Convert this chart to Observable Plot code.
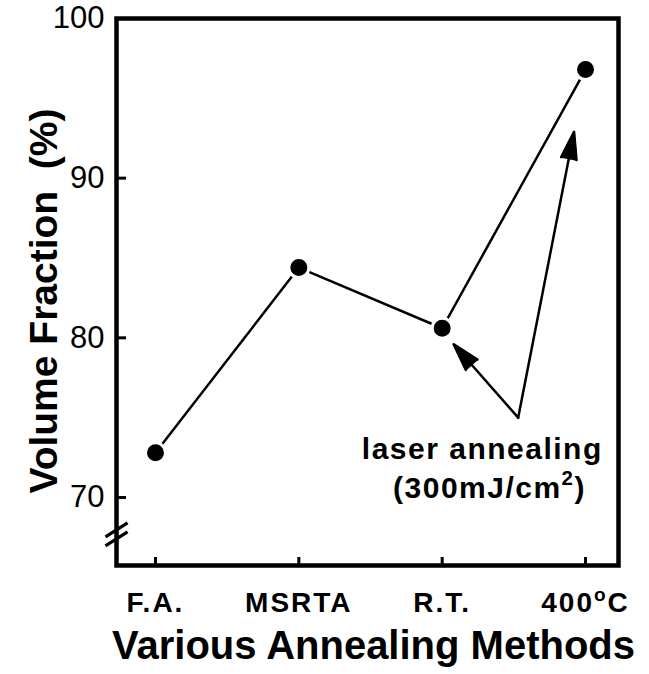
<!DOCTYPE html>
<html><head><meta charset="utf-8">
<script src="https://cdn.jsdelivr.net/npm/d3@7"></script>
<script src="https://cdn.jsdelivr.net/npm/@observablehq/plot@0.6"></script>
<style>
body{margin:0;background:#fff;}
#chart svg{display:block;}
</style></head><body><div id="chart"></div>
<script>
const methods = ["F.A.", "MSRTA", "R.T.", "400°C"];
const methodIndex = [0, 1, 2, 3];
const volumeFraction = [72.8, 84.4, 80.6, 96.8];
const yTicks = [70, 80, 90, 100];
const yLabel = "Volume Fraction  (%)";
const xLabel = "Various Annealing Methods";
const noteLines = ["laser annealing", "(300mJ/cm²)"];
const noteX = [2.28, 2.33];
const noteY = [73.0, 70.6];
const arrowStartX = [2.53, 2.53];
const arrowStartY = [75.0, 75.0];
const arrowEndX = [2.08, 2.92];
const arrowEndY = [79.6, 92.9];
// axis-break slashes
const breakX1 = [-0.349, -0.349];
const breakX2 = [-0.195, -0.195];
const breakY1 = [67.53, 66.97];
const breakY2 = [68.41, 67.85];

const data = methodIndex.map(i => ({i, v: volumeFraction[i]}));
const font = "'Liberation Sans', Arial, Helvetica, sans-serif";

const chart = Plot.plot({
  width: 649, height: 674,
  marginLeft: 116, marginRight: 31, marginTop: 18, marginBottom: 109,
  style: {fontFamily: font, color: "black", background: "white"},
  x: {type: "linear", domain: [-0.272, 3.23], label: null},
  y: {domain: [65.74, 100], label: null},
  marks: [
    Plot.axisY(yTicks, {anchor: "left", tickSize: 10, dx: 10, tickPadding: 12, fontSize: 31, strokeWidth: 3, label: null}),
    Plot.axisX(methodIndex, {anchor: "bottom", tickSize: 8, dy: -8, tickPadding: 27, fontSize: 28, fontWeight: "bold", strokeWidth: 3, tickFormat: i => methods[i], label: null}),
    Plot.frame({strokeWidth: 4.5}),
    Plot.link(breakX1, {x1: breakX1, y1: breakY1, x2: breakX2, y2: breakY2, strokeWidth: 3.2}),
    Plot.line(data, {x: "i", y: "v", strokeWidth: 2.5}),
    Plot.dot(data, {x: "i", y: "v", r: 10, fill: "black", stroke: "white", strokeWidth: 3}),
    Plot.arrow(arrowEndX, {x1: arrowStartX, y1: arrowStartY, x2: arrowEndX, y2: arrowEndY, strokeWidth: 2.5, headLength: 17, headAngle: 32}),
    Plot.text(noteLines, {x: noteX, y: noteY, text: d => d, fontSize: 30, fontWeight: "bold"}),
    Plot.text([yLabel], {frameAnchor: "left", textAnchor: "middle", text: d => d, rotate: -90, dx: -72, dy: 9, fontSize: 39, fontWeight: "bold"}),
    Plot.text([xLabel], {frameAnchor: "bottom", textAnchor: "middle", text: d => d, dx: 6, dy: 93, fontSize: 40, fontWeight: "bold"})
  ]
});

const NS = "http://www.w3.org/2000/svg";
function sup(t, base, supText, rest, fs) {
  while (t.firstChild) t.removeChild(t.firstChild);
  t.appendChild(document.createTextNode(base));
  const s = document.createElementNS(NS, "tspan");
  s.setAttribute("dy", -0.42 * fs);
  s.setAttribute("font-size", 0.68 * fs);
  s.textContent = supText;
  t.appendChild(s);
  const r = document.createElementNS(NS, "tspan");
  r.setAttribute("dy", 0.42 * fs);
  r.textContent = rest;
  t.appendChild(r);
}
chart.querySelectorAll("text").forEach(t => {
  const s = t.textContent;
  if (s === "400°C") { sup(t, "400", "o", "C", 28); t.setAttribute("letter-spacing", 2); }
  else if (methods.includes(s)) t.setAttribute("letter-spacing", 2);
  else if (s === noteLines[0]) t.setAttribute("letter-spacing", 1.5);
  else if (s === noteLines[1]) { sup(t, "(300mJ/cm", "2", ")", 30); t.setAttribute("letter-spacing", 1.5); }
});
// fill the arrowheads
chart.querySelectorAll('g[aria-label="arrow"] path').forEach(p => {
  const nums = (p.getAttribute("d").match(/-?\d*\.?\d+(e-?\d+)?/g) || []).map(Number);
  if (nums.length < 6) return;
  const n = nums.slice(-6);
  const head = document.createElementNS(NS, "path");
  head.setAttribute("d", `M${n[0]},${n[1]}L${n[2]},${n[3]}L${n[4]},${n[5]}Z`);
  head.setAttribute("fill", "black");
  head.setAttribute("stroke", "black");
  head.setAttribute("stroke-width", 1.5);
  head.setAttribute("stroke-linejoin", "miter");
  p.parentNode.appendChild(head);
});
document.getElementById("chart").appendChild(chart);
</script></body></html>
